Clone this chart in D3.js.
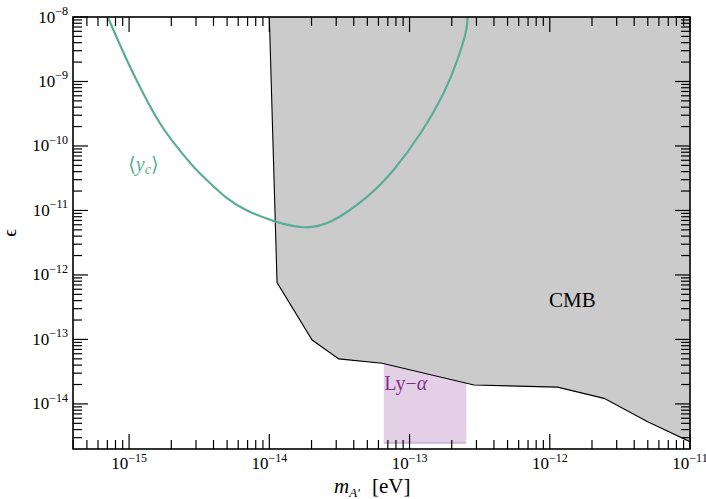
<!DOCTYPE html>
<html>
<head>
<meta charset="utf-8">
<script src="https://cdn.jsdelivr.net/npm/d3@7"></script>
<style>
  html, body { margin: 0; padding: 0; background: #fff; }
  svg { display: block; }
  text { font-family: "Liberation Serif", "Times New Roman", "DejaVu Serif", serif; }
</style>
</head>
<body>
<svg id="chart" width="706" height="499"></svg>
<script>
// ---------- data ----------
const xDomain = [Math.pow(10, -15.4), 1e-11];
const yDomain = [2e-15, 1e-8];

const xTickValues = [1e-15, 1e-14, 1e-13, 1e-12, 1e-11];
const xTickExponents = ["−15", "−14", "−13", "−12", "−11"];
const yTickValues = [1e-8, 1e-9, 1e-10, 1e-11, 1e-12, 1e-13, 1e-14];
const yTickExponents = ["−8", "−9", "−10", "−11", "−12", "−13", "−14"];

// CMB excluded region boundary (mass [eV], epsilon)
const cmbMass = [1.0e-14, 1.135e-14, 2.02e-14, 3.13e-14, 6.38e-14, 2.88e-13, 1.135e-12, 2.44e-12, 4.99e-12, 1.0e-11];
const cmbEps  = [1.0e-8,  7.6e-13,   9.8e-14, 4.99e-14, 4.28e-14, 1.97e-14, 1.82e-14,  1.22e-14, 5.3e-15,  2.6e-15];

// <y_c> curve
const ycMass = [7.05e-16, 9.64e-16, 1.26e-15, 1.66e-15, 2.19e-15, 2.88e-15, 3.79e-15, 4.99e-15, 6.93e-15, 1.07e-14, 1.76e-14, 2.88e-14, 4.99e-14, 7.69e-14, 1.2e-13, 1.75e-13, 2.19e-13, 2.51e-13, 2.6e-13];
const ycEps  = [1.0e-8,   2.15e-9,  6.56e-10, 2.25e-10, 9.75e-11, 4.78e-11, 2.64e-11, 1.55e-11, 1.0e-11,  6.9e-12,  5.49e-12, 7.13e-12, 1.64e-11, 4.25e-11, 1.59e-10, 6.64e-10, 2.15e-9,  5.65e-9,  1.0e-8];

// Ly-alpha band
const lyMass = [6.55e-14, 2.54e-13];
const lyEps  = [2.5e-15, 5e-14];

// ---------- layout ----------
const L = 73, R = 690, T = 17, B = 449;
const svg = d3.select("#chart");
const x = d3.scaleLog().domain(xDomain).range([L, R]);
const y = d3.scaleLog().domain(yDomain).range([B, T]);

svg.append("defs").append("clipPath").attr("id", "clip")
  .append("rect").attr("x", L).attr("y", T).attr("width", R - L).attr("height", B - T);
const plot = svg.append("g").attr("clip-path", "url(#clip)");

// Ly-alpha band
plot.append("rect")
  .attr("x", x(lyMass[0])).attr("width", x(lyMass[1]) - x(lyMass[0]))
  .attr("y", y(lyEps[1])).attr("height", y(lyEps[0]) - y(lyEps[1]))
  .attr("fill", "#e3d0e7");
plot.append("line")
  .attr("x1", x(lyMass[0])).attr("x2", x(lyMass[1]))
  .attr("y1", y(lyEps[0])).attr("y2", y(lyEps[0]))
  .attr("stroke", "#d3b2da").attr("stroke-width", 2);

// CMB region
const cmbPts = cmbMass.map((m, i) => [x(m), y(cmbEps[i])]);
const polyPts = cmbPts.concat([[x(xDomain[1]) + 2, y(cmbEps[cmbEps.length - 1])], [x(xDomain[1]) + 2, y(yDomain[1]) - 2], [x(cmbMass[0]), y(yDomain[1]) - 2]]);
plot.append("path")
  .attr("d", "M" + polyPts.map(p => p.join(",")).join("L") + "Z")
  .attr("fill", "#cbcbcb");
plot.append("path")
  .attr("d", d3.line()(cmbPts))
  .attr("fill", "none").attr("stroke", "#000").attr("stroke-width", 1.1);

// <y_c> curve
plot.append("path")
  .attr("d", d3.line().curve(d3.curveNatural)(ycMass.map((m, i) => [x(m), y(ycEps[i])])))
  .attr("fill", "none").attr("stroke", "#5aae96").attr("stroke-width", 2.2);

// labels in plot
const ly = svg.append("text").attr("x", x(lyMass[0]) + 0.5).attr("y", 390)
  .attr("font-size", 20).attr("fill", "#82308a");
ly.append("tspan").text("Ly−");
ly.append("tspan").attr("font-style", "italic").text("α");

svg.append("text").attr("x", 549).attr("y", 306.5).attr("font-size", 21).attr("fill", "#000").text("CMB");

const yc = svg.append("text").attr("x", 128).attr("y", 171).attr("font-size", 20).attr("fill", "#5aae96");
yc.append("tspan").text("⟨");
yc.append("tspan").attr("font-style", "italic").text("y");
yc.append("tspan").attr("font-style", "italic").attr("font-size", 14).attr("dy", 3).text("c");
yc.append("tspan").attr("dy", -3).text("⟩");

// ---------- axes (ticks inward on all sides) ----------
const axes = svg.append("g").attr("stroke", "#000");
const MAJ = 15, MIN = 9;
function minorTicks(domain) {
  const out = [];
  const lo = Math.floor(Math.log10(domain[0])), hi = Math.ceil(Math.log10(domain[1]));
  for (let d = lo; d < hi; d++) for (let k = 2; k <= 9; k++) {
    const v = k * Math.pow(10, d);
    if (v > domain[0] * 1.001 && v < domain[1] * 0.999) out.push(v);
  }
  return out;
}
const xMinor = minorTicks(xDomain), yMinor = minorTicks(yDomain);
function tick(x1, y1, x2, y2) {
  axes.append("line").attr("x1", x1).attr("y1", y1).attr("x2", x2).attr("y2", y2).attr("stroke-width", 1.2);
}
xTickValues.forEach(v => { const px = x(v); tick(px, B, px, B - MAJ); tick(px, T, px, T + MAJ); });
xMinor.forEach(v => { const px = x(v); tick(px, B, px, B - MIN); tick(px, T, px, T + MIN); });
yTickValues.forEach(v => { const py = y(v); tick(L, py, L + MAJ, py); tick(R, py, R - MAJ, py); });
yMinor.forEach(v => { const py = y(v); tick(L, py, L + MIN, py); tick(R, py, R - MIN, py); });
svg.append("rect").attr("x", L).attr("y", T).attr("width", R - L).attr("height", B - T)
  .attr("fill", "none").attr("stroke", "#000").attr("stroke-width", 1.6);

// tick labels
xTickValues.forEach((v, i) => {
  const t = svg.append("text").attr("x", x(v)).attr("y", 469).attr("text-anchor", "middle").attr("font-size", 17);
  t.append("tspan").text("10");
  t.append("tspan").attr("dy", -7.5).attr("font-size", 12).text(xTickExponents[i]);
});
yTickValues.forEach((v, i) => {
  const t = svg.append("text").attr("x", 68).attr("y", y(v) + 5.5).attr("text-anchor", "end").attr("font-size", 17);
  t.append("tspan").text("10");
  t.append("tspan").attr("dy", -7.5).attr("font-size", 12).text(yTickExponents[i]);
});

// axis titles
const xt = svg.append("text").attr("x", 334).attr("y", 493).attr("font-size", 21);
xt.append("tspan").attr("font-style", "italic").text("m");
xt.append("tspan").attr("font-style", "italic").attr("font-size", 13).attr("dy", 4).text("A'");
xt.append("tspan").attr("dy", -4).attr("dx", 12).text("[eV]");

svg.append("text").attr("transform", "translate(16,233) rotate(-90)")
  .attr("text-anchor", "middle").attr("font-size", 19).text("ϵ");
</script>
</body>
</html>
